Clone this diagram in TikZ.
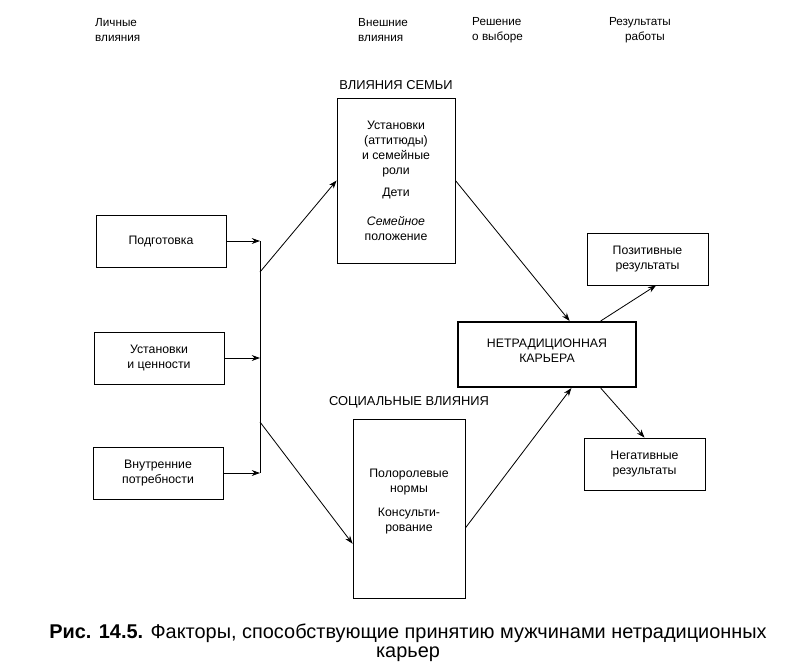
\documentclass[tikz,border=0pt]{standalone}
\usepackage{fontspec}
\setmainfont{Liberation Sans}
\usetikzlibrary{arrows.meta,positioning}

\begin{document}
\begin{tikzpicture}[x=0.03cm, y=-0.03cm,
  factor/.style={draw, line width=0.7pt, minimum width=3.9cm, minimum height=1.56cm,
                 align=center, font=\fontsize{10.5}{12.75}\selectfont, inner sep=2pt},
  group/.style={draw, line width=0.7pt, align=center,
                font=\fontsize{10.5}{12.75}\selectfont, inner sep=2pt},
  career/.style={draw, line width=1.8pt, minimum width=5.34cm, minimum height=1.95cm,
                 align=center, font=\fontsize{10.5}{12.75}\selectfont},
  outcome/.style={draw, line width=0.7pt, minimum width=3.63cm, minimum height=1.56cm,
                  align=center, font=\fontsize{10.5}{12.75}\selectfont},
  head/.style={align=left, font=\fontsize{10}{12.75}\selectfont, inner sep=0pt},
  grouptitle/.style={font=\fontsize{11}{13}\selectfont, inner sep=0pt},
  conn/.style={line width=0.7pt, -{Stealth[length=7pt, width=5pt]}}
]
  \useasboundingbox (0,0) rectangle (793,664);

  % column heads
  \node[head, anchor=west] (h1) at (95,30) {Личные\\влияния};
  \node[head, anchor=west] (h2) at (358,30) {Внешние\\влияния};
  \node[head, anchor=west] (h3) at (472,30) {Решение\\о выборе};
  \node[head, align=center] (h4) at (640,30) {Результаты\\\ \ \ работы};

  \node[factor] (podg) at (161,241) {Подготовка};
  \node[factor] (ust)  at (159,358) {Установки\\и ценности};
  \node[factor] (potr) at (158,473) {Внутренние\\потребности};

  \coordinate (bus) at (260,350);
  \coordinate (d1) at (260,272);
  \coordinate (d2) at (260,422);

  \node[group, minimum width=3.54cm, minimum height=4.95cm] (fam) at (396,180.5)
    {Установки\\(аттитюды)\\и семейные\\роли\\[6pt]Дети\\[12pt]\textit{Семейное}\\положение};
  \node[grouptitle, above=7pt of fam] (famt) {ВЛИЯНИЯ СЕМЬИ};

  \node[group, minimum width=3.36cm, minimum height=5.37cm] (soc) at (409,508.5)
    {Полоролевые\\нормы\\[8pt]Консульти-\\рование\\[1pt]};
  \node[grouptitle, above=9pt of soc] (soct) {СОЦИАЛЬНЫЕ ВЛИЯНИЯ};

  \node[career] (car) at (547,354.5) {НЕТРАДИЦИОННАЯ\\КАРЬЕРА\\[-6pt]\mbox{}};

  \node[outcome] (pos) at (647.5,259) {Позитивные\\результаты};
  \node[outcome] (neg) at (644.5,464) {Негативные\\результаты};

  \draw[conn] (podg.east) -- (podg.east -| bus);
  \draw[conn] (ust.east) -- (ust.east -| bus);
  \draw[conn] (potr.east) -- (potr.east -| bus);
  \draw[line width=0.7pt] (podg.east -| bus) -- (potr.east -| bus);

  \draw[conn] (d1) -- (fam.west);
  \draw[conn] (d2) -- (soc.212);
  \draw[conn] (fam.east) -- (car.56);
  \draw[conn] (soc.-19) -- (car.-54);
  \draw[conn] (car.32) -- (pos.-72);
  \draw[conn] (car.-32) -- (neg.north);

  \node[align=center, font=\fontsize{17}{16.5}\selectfont] (cap) at (408,643)
    {\textbf{Рис. 14.5.} Факторы, способствующие принятию мужчинами нетрадиционных\\карьер};
\end{tikzpicture}
\end{document}
